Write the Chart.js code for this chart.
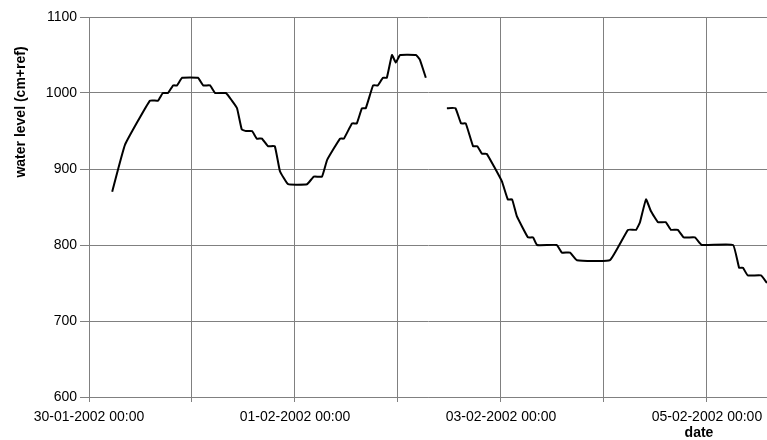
<!DOCTYPE html>
<html>
<head>
<meta charset="utf-8">
<script src="https://cdn.jsdelivr.net/npm/chart.js@4.4.1/dist/chart.umd.min.js"></script>
<style>
  html, body { margin: 0; padding: 0; background: #fff; }
  #wrap { width: 767px; height: 440px; }
</style>
</head>
<body>
<div id="wrap"><canvas id="levelChart" width="767" height="440"></canvas></div>
<script>
// hours since 30-01-2002 00:00, null marks the gap in the record
const hours = [
  5.4, 8.4, 14.2, 16.1, 17.2, 18.4, 19.6, 20.5, 21.7, 25.4, 26.6, 28.2, 29.4, 31.9,
  33.3, 34.5, 35.6, 36.6, 38.0, 39.1, 40.3, 41.7, 43.3, 44.5, 46.4, 50.8, 52.4, 54.3,
  55.5, 58.5, 59.4, 61.3, 62.4, 63.6, 64.5, 66.2, 67.3, 68.5, 69.4, 70.6, 71.5, 72.5,
  76.2, 77.1, 78.5,
  80.5,
  83.4, 85.4, 86.7, 87.8, 89.5, 90.5, 91.6, 92.7, 96.2, 97.6, 98.6, 99.7, 102.3, 103.5,
  104.4, 109.0, 110.2, 112.1, 113.7, 121.4, 125.6, 127.5, 128.4, 129.8, 131.0, 132.6,
  134.4, 135.6, 137.2, 138.6, 141.2, 142.8, 150.1, 151.5, 152.4, 153.5, 156.6, 158.0
];
const level = [
  870, 932, 990, 990, 1000, 1000, 1010, 1010, 1020, 1020, 1010, 1010, 1000, 1000,
  990, 980, 952, 950, 950, 940, 940, 930, 930, 897, 880, 880, 890, 890,
  912, 940, 940, 960, 960, 980, 980, 1010, 1010, 1020, 1020, 1050, 1040, 1050,
  1050, 1044, 1020,
  null,
  980, 980, 960, 960, 930, 930, 920, 920, 884, 860, 860, 838, 810, 810,
  800, 800, 790, 790, 780, 780, 820, 820, 830, 860, 844, 830,
  830, 820, 820, 810, 810, 800, 800, 770, 770, 760, 760, 750
];
const yTicks = [600, 700, 800, 900, 1000, 1100];
const xTitle = 'date';
const yTitle = 'water level (cm+ref)';
const startDate = Date.UTC(2002, 0, 30, 0, 0);

function pad(n) {
  return String(n).padStart(2, '0');
}

function formatHour(h) {
  const d = new Date(startDate + h * 3600 * 1000);
  return `${pad(d.getUTCDate())}-${pad(d.getUTCMonth() + 1)}-${d.getUTCFullYear()} ` +
    `${pad(d.getUTCHours())}:${pad(d.getUTCMinutes())}`;
}

const points = hours.map((h, i) => ({ x: h, y: level[i] }));

const FONT = '"Liberation Sans", Arial, sans-serif';
Chart.defaults.font.family = FONT;
Chart.defaults.font.size = 14;
Chart.defaults.color = '#000';

// axis titles sit off-centre in the original, so they are drawn by hand
const axisTitles = {
  id: 'axisTitles',
  afterDraw(chart) {
    const ctx = chart.ctx;
    ctx.save();
    ctx.fillStyle = '#000';
    ctx.font = 'bold 14px ' + FONT;
    ctx.textAlign = 'center';
    ctx.textBaseline = 'middle';
    ctx.fillText(xTitle, 699, 433);
    ctx.translate(21, 112);
    ctx.rotate(-Math.PI / 2);
    ctx.fillText(yTitle, 0, 0);
    ctx.restore();
  },
};

new Chart(document.getElementById('levelChart'), {
  type: 'line',
  data: {
    datasets: [{
      label: 'water level',
      data: points,
      borderColor: '#000',
      borderWidth: 2,
      pointRadius: 0,
      tension: 0.1,
      spanGaps: false,
      fill: false,
    }],
  },
  options: {
    responsive: false,
    animation: false,
    layout: { padding: { top: 17, left: 0, right: 0, bottom: 0 } },
    plugins: { legend: { display: false }, tooltip: { enabled: false } },
    scales: {
      x: {
        type: 'linear',
        min: 0,
        max: 158,
        afterBuildTicks: s => { s.ticks = s.ticks.filter(t => t.value % 24 === 0); },
        afterFit: s => { s.height = 43; s.paddingLeft = 0; s.paddingRight = 0; },
        ticks: {
          stepSize: 24,
          autoSkip: false,
          maxRotation: 0,
          padding: 7,
          callback: v => (v % 48 === 0 ? formatHour(v) : ''),
        },
        grid: { color: '#808080', lineWidth: 1, tickLength: 5 },
        border: { color: '#808080' },
      },
      y: {
        min: 600,
        max: 1100,
        afterBuildTicks: s => { s.ticks = yTicks.map(v => ({ value: v })); },
        afterFit: s => { s.width = 89; s.paddingTop = 0; s.paddingBottom = 0; },
        ticks: { stepSize: 100, padding: 3, callback: v => String(v) },
        grid: { color: '#808080', lineWidth: 1, tickLength: 9 },
        border: { color: '#808080' },
      },
    },
  },
  plugins: [axisTitles],
});
</script>
</body>
</html>
